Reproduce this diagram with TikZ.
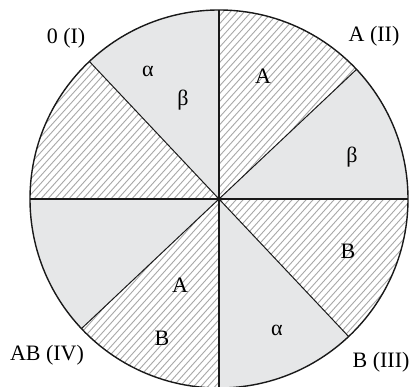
\documentclass[tikz,border=0pt]{standalone}
\usepackage{fontspec}
\setmainfont{Liberation Serif}
\usetikzlibrary{calc}
\definecolor{sectgrey}{HTML}{E6E7E8}
\definecolor{hatchgrey}{HTML}{A8A8A8}
\tikzset{
  lbl/.style={inner sep=0pt, font=\fontsize{22}{24}\selectfont},
  hatchline/.style={draw=hatchgrey, line width=0.9pt},
  axisline/.style={draw=black!90, line width=2pt},
  diagline/.style={draw=black!90, line width=1pt},
  rim/.style={draw=black!90, line width=1.4pt}
}
\newcommand{\R}{189}
\begin{document}
\begin{tikzpicture}[x=1pt,y=1pt]
\useasboundingbox (0,0) rectangle (416,387);
\coordinate (C) at (219,188);
% grey sectors
\foreach \a in {0,90,180,270}{
  \fill[sectgrey] (C) -- ++(\a:\R) arc[start angle=\a, end angle=\a+43.3, radius=\R] -- cycle;
}
% hatched sectors
\foreach \a in {43.3,133.3,223.3,313.3}{
  \begin{scope}
    \clip (C) -- ++(\a:\R) arc[start angle=\a, end angle=\a+46.7, radius=\R] -- cycle;
    \fill[white] (0,0) rectangle (416,387);
    \foreach \i in {-420,-413,...,420}{
      \draw[hatchline] (\i,-5) -- ++(48:560);
    }
  \end{scope}
}
% boundary points
\coordinate (ur) at ($(C)+(43.3:\R)$);
\coordinate (ul) at ($(C)+(133.3:\R)$);
\coordinate (ll) at ($(C)+(223.3:\R)$);
\coordinate (lr) at ($(C)+(313.3:\R)$);
\coordinate (e) at ($(C)+(0:\R)$);
\coordinate (n) at ($(C)+(90:\R)$);
\coordinate (w) at ($(C)+(180:\R)$);
\coordinate (s) at ($(C)+(270:\R)$);
\draw[diagline] (ur) -- (ll);
\draw[diagline] (ul) -- (lr);
\draw[axisline] (w) -- (e);
\draw[axisline] (n) -- (s);
\draw[rim] (C) circle[radius=\R];
% outer labels
\node[lbl] (l1) at (66,349) {0 (I)};
\node[lbl] (l2) at (374,351) {A (II)};
\node[lbl] (l4) at (47,32) {AB (IV)};
\node[lbl] (l3) at (381,25) {B (III)};
% inner labels
\node[lbl] (a1) at (148,316) {α};
\node[lbl] (b1) at (183,287) {β};
\node[lbl] (A1) at (263,311) {A};
\node[lbl] (b2) at (352,230) {β};
\node[lbl] (A2) at (180,102) {A};
\node[lbl] (B2) at (162,49) {B};
\node[lbl] (B1) at (348,136) {B};
\node[lbl] (a2) at (277,57) {α};
\end{tikzpicture}
\end{document}
